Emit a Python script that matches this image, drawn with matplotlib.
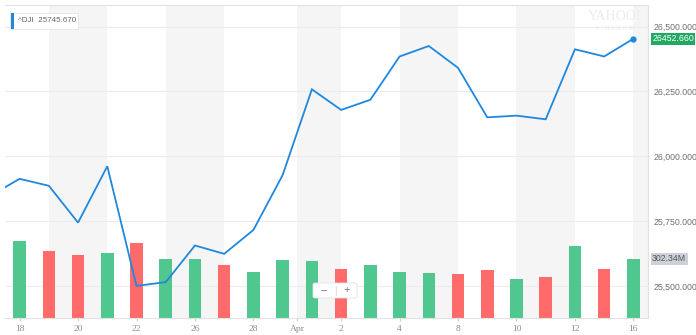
#!/usr/bin/env python3
"""
Dow Jones (^DJI) daily close with volume bars, Mar 18 - Apr 16 2019,
drawn in the style of the Yahoo Finance interactive chart.
Saves out.png (696x335).
"""

import matplotlib
matplotlib.use("Agg")
import matplotlib.pyplot as plt
from matplotlib.patches import Rectangle, FancyBboxPatch
import numpy as np
import pandas as pd

# trading days; the first one (Mar 15) only feeds the clipped start of the line
dates = ["2019-03-15", "2019-03-18", "2019-03-19", "2019-03-20", "2019-03-21",
         "2019-03-22", "2019-03-25", "2019-03-26", "2019-03-27", "2019-03-28",
         "2019-03-29", "2019-04-01", "2019-04-02", "2019-04-03", "2019-04-04",
         "2019-04-05", "2019-04-08", "2019-04-09", "2019-04-10", "2019-04-11",
         "2019-04-12", "2019-04-15", "2019-04-16"]
close = [25848.87, 25914.10, 25887.38, 25745.67, 25962.51,
         25502.32, 25516.83, 25657.73, 25625.59, 25717.46,
         25928.68, 26258.42, 26179.13, 26218.13, 26384.63,
         26424.99, 26341.02, 26150.58, 26157.16, 26143.05,
         26412.30, 26384.77, 26452.66]
# volume in millions, Mar 18 onwards
volume = [396, 341, 320, 333, 384, 300, 304, 269, 235, 297,
          293, 251, 271, 233, 230, 227, 244, 201, 210, 370,
          251, 302.34]

# shaded background columns, in trading-day units
bands = [(1, 3), (5, 7), (9.5, 11), (13, 15), (17, 19), (21, 23)]
price_ticks = [25500, 25750, 26000, 26250, 26500]

W, H = 696, 335
GREEN = "#4fc78e"
RED = "#ff6b6b"
BLUE = "#1f88de"
GRAY_TXT = "#8a8a8a"
PRICE_LIM = (25378.8, 26582.7)


def fx(px):
    return px / W


def fy(py):
    return 1 - py / H


def main():
    d = pd.to_datetime(dates)
    x = np.arange(len(d)) - 1          # Mar 15 sits at -1
    xv = x[1:]
    up = np.diff(close) >= 0
    colors = [GREEN if u else RED for u in up]

    fig = plt.figure(figsize=(W / 100, H / 100), dpi=100)
    plt.rcParams["font.family"] = ["Liberation Sans", "DejaVu Sans"]

    # plot area: x 5..648 px, y 5..318 px
    ax_vol = fig.add_axes([fx(5), fy(318), fx(648) - fx(5), (318 - 5) / H])
    ax = ax_vol.twinx()

    # background bands, grid (under the bars), volume bars
    for a, b in bands:
        ax_vol.axvspan(a, b, color="#f5f5f5", lw=0, zorder=0)
    lo, hi = PRICE_LIM
    for v in price_ticks:
        f = (v - lo) / (hi - lo)
        ax_vol.plot([0, 1], [f, f], transform=ax_vol.transAxes,
                    color="#ececec", lw=0.8, zorder=1)
    ax_vol.bar(xv, volume, width=0.43, color=colors, zorder=2)
    ax_vol.set_ylim(0, 1600)
    ax_vol.set_xlim(-0.5, 21.5)
    ax_vol.set_yticks([])

    # x ticks: every other trading day, month name at the boundary
    tick_pos, tick_lab = [], []
    for i, t in enumerate(d[1:]):
        if t.month == 4 and t.day == 1:
            tick_pos.append(i - 0.5)
            tick_lab.append("Apr")
        elif i % 2 == 0 and i <= 8 or (i >= 11 and i % 2 == 1):
            tick_pos.append(i)
            tick_lab.append(str(t.day))
    ax_vol.set_xticks(tick_pos)
    ax_vol.set_xticklabels(tick_lab, family="Liberation Serif", fontsize=6.8,
                           color=GRAY_TXT)
    ax_vol.tick_params(axis="x", length=2, color="#cccccc", pad=3)

    for name, sp in ax_vol.spines.items():
        sp.set_visible(name in ("bottom", "top", "right"))
        sp.set_color("#e2e2e2")
        sp.set_linewidth(0.8)
    for sp in ax.spines.values():
        sp.set_visible(False)

    # price line
    ax.plot(x, close, color=BLUE, lw=1.3, zorder=3, solid_joinstyle="miter")
    ax.plot(x[-1], close[-1], "o", color=BLUE, ms=3.5, zorder=4)
    ax.set_ylim(*PRICE_LIM)
    ax.set_xlim(-0.5, 21.5)
    ax.set_yticks(price_ticks)
    ax.set_yticklabels([f"{v:,.3f}" for v in price_ticks], fontsize=6.3,
                       color="#707070")
    ax.tick_params(axis="y", length=0, pad=4)

    # last price / volume tags on the right axis
    ax.annotate(f"{close[-1]:.3f}", xy=(1, close[-1]), xycoords=("axes fraction", "data"),
                xytext=(3, 0), textcoords="offset points", va="center", ha="left",
                fontsize=6.3, color="white",
                bbox=dict(boxstyle="square,pad=0.18", fc="#22a862", ec="none"))
    ax_vol.annotate(f"{volume[-1]:.2f}M", xy=(1, volume[-1]), xycoords=("axes fraction", "data"),
                    xytext=(3, 0), textcoords="offset points", va="center", ha="left",
                    fontsize=6.3, color="#555555",
                    bbox=dict(boxstyle="square,pad=0.18", fc="#cdd1d8", ec="none"))

    # legend chip top-left
    fig.patches.append(FancyBboxPatch((fx(10), fy(29)), fx(78) - fx(10), fy(13) - fy(29),
                                      boxstyle="square,pad=0", transform=fig.transFigure,
                                      fc="white", ec="#e4e4e4", lw=0.6, zorder=5))
    fig.patches.append(Rectangle((fx(11), fy(29)), fx(14) - fx(11), fy(13) - fy(29),
                                 transform=fig.transFigure, fc=BLUE, ec="none", zorder=6))
    fig.text(fx(18), fy(21), f"^DJI  {close[3]:.3f}", fontsize=5.8, color="#666666",
             va="center", ha="left", zorder=7)

    # zoom control
    fig.patches.append(FancyBboxPatch((fx(313), fy(298)), fx(357) - fx(313), fy(283) - fy(298),
                                      boxstyle="round,pad=0,rounding_size=0.004",
                                      transform=fig.transFigure,
                                      fc="white", ec="#e2e2e2", lw=0.6, zorder=5))
    fig.text(fx(324), fy(290.5), "\u2212", fontsize=8, color="#777777",
             ha="center", va="center", zorder=7)
    fig.text(fx(335), fy(290.5), "|", fontsize=7, color="#d0d0d0",
             ha="center", va="center", zorder=7)
    fig.text(fx(347), fy(290.5), "+", fontsize=8, color="#777777",
             ha="center", va="center", zorder=7)

    # faint watermark
    fig.text(fx(615), fy(17), "YAHOO!", fontsize=10, color="#ececec",
             ha="center", va="center", family="Liberation Serif", zorder=1)
    fig.text(fx(615), fy(28), "F I N A N C E", fontsize=4.5, color="#ececec",
             ha="center", va="center", zorder=1)

    fig.savefig("out.png", dpi=100, facecolor="white")


if __name__ == "__main__":
    main()
